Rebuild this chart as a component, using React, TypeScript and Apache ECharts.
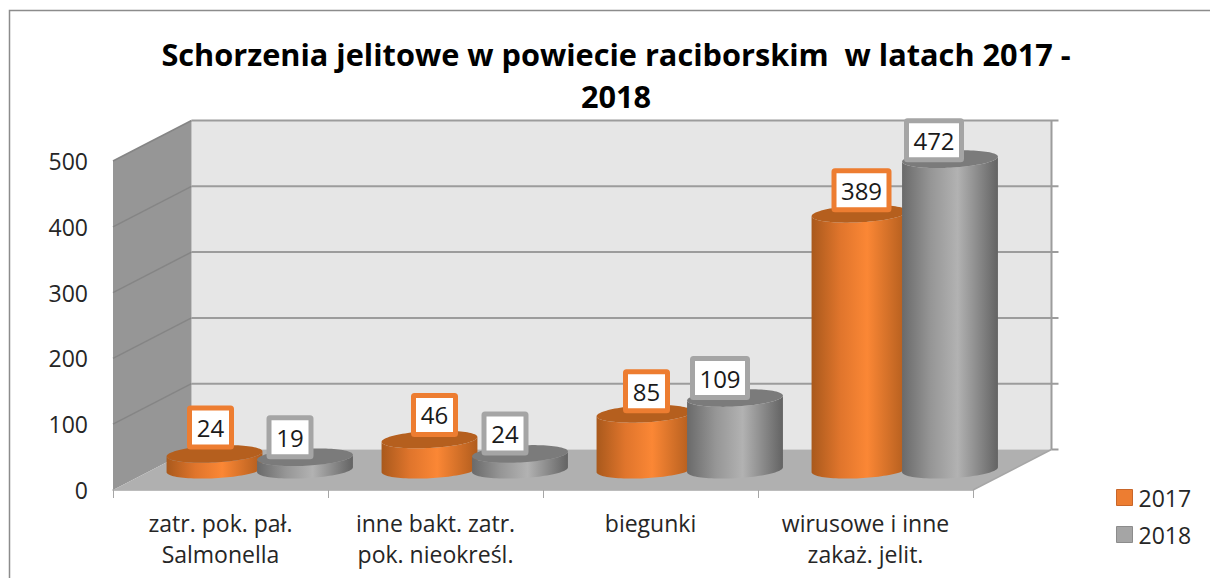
import React, { useEffect, useRef } from "react";
import * as echarts from "echarts";

const categories = [
  "zatr. pok. pał.\nSalmonella",
  "inne bakt. zatr.\npok. nieokreśl.",
  "biegunki",
  "wirusowe i inne\nzakaż. jelit.",
];
const values2017 = [24, 46, 85, 389];
const values2018 = [19, 24, 109, 472];
const yTicks = [0, 100, 200, 300, 400, 500];
const titleText = "Schorzenia jelitowe w powiecie raciborskim  w latach 2017 -\n2018";

const FONT = "'Open Sans', Lato, sans-serif";
const DEPTH_X = 78.5;
const DEPTH_Y = -40.5;
const TILT = (-3 * Math.PI) / 180;
const RX = 48;
const RY = 8.5;

type Look = {
  dx: number;
  labelDx: number[];
  labelDy: number[];
  border: string;
  top: string;
  stops: [string, string, string, string];
  legend: string;
  legendBorder: string;
};
const look2017: Look = {
  dx: -6,
  labelDx: [-4, 5, 2, 2],
  labelDy: [-26.5, -24.5, -22.5, -23.5],
  border: "#ed7d31",
  top: "#b55f1e",
  stops: ["#a9591c", "#e0752c", "#fb8735", "#b05c1d"],
  legend: "#ed7d31",
  legendBorder: "#c8662a",
};
const look2018: Look = {
  dx: 84.5,
  labelDx: [-15, -15, -15, -16],
  labelDy: [-20, -20.5, -20, -19],
  border: "#a5a5a5",
  top: "#7b7b7b",
  stops: ["#6a6a6a", "#969696", "#b2b2b2", "#636363"],
  legend: "#a5a5a5",
  legendBorder: "#8c8c8c",
};

function ellipsePoint(cx: number, cy: number, t: number) {
  const ex = RX * Math.cos(t);
  const ey = RY * Math.sin(t);
  return [
    cx + ex * Math.cos(TILT) - ey * Math.sin(TILT),
    cy + ex * Math.sin(TILT) + ey * Math.cos(TILT),
  ];
}

function cylinderItem(look: Look) {
  return (_params: any, api: any) => {
    const idx = api.value(0);
    const val = api.value(1);
    const base = api.coord([idx, 0]);
    const top = api.coord([idx, val]);
    const cx = base[0] + look.dx;
    const by = base[1] + DEPTH_Y / 2;
    const ty = top[1] + DEPTH_Y / 2;

    const body: number[][] = [];
    for (let i = 0; i <= 48; i++) body.push(ellipsePoint(cx, by, (i / 48) * Math.PI));
    for (let i = 0; i <= 48; i++) body.push(ellipsePoint(cx, ty, Math.PI - (i / 48) * Math.PI));
    const cap: number[][] = [];
    for (let i = 0; i < 96; i++) cap.push(ellipsePoint(cx, ty, (i / 96) * 2 * Math.PI));

    const text = String(val);
    const boxW = text.length > 2 ? 55 : 42;
    const boxH = 39;
    const lx = cx + look.labelDx[idx];
    const ly = ty + look.labelDy[idx];

    return {
      type: "group",
      children: [
        {
          type: "polygon",
          shape: { points: body },
          style: {
            fill: new echarts.graphic.LinearGradient(0, 0, 1, 0, [
              { offset: 0, color: look.stops[0] },
              { offset: 0.3, color: look.stops[1] },
              { offset: 0.58, color: look.stops[2] },
              { offset: 1, color: look.stops[3] },
            ]),
          },
        },
        { type: "polygon", shape: { points: cap }, style: { fill: look.top } },
        {
          type: "rect",
          shape: { x: lx - boxW / 2, y: ly - boxH / 2, width: boxW, height: boxH, r: 1 },
          style: { fill: "#ffffff", stroke: look.border, lineWidth: 5 },
        },
        {
          type: "text",
          x: lx,
          y: ly,
          style: {
            text,
            x: 0,
            y: 0,
            align: "center",
            verticalAlign: "middle",
            font: `400 24px ${FONT}`,
            fill: "#1a1a1a",
          },
        },
      ],
    };
  };
}

function wallsItem(params: any, api: any) {
  const { x, width } = params.coordSys;
  const right = x + width;
  const y0 = api.coord([0, 0])[1];
  const yMax = api.coord([0, yTicks[yTicks.length - 1]])[1];
  const children: any[] = [
    {
      type: "polygon",
      shape: {
        points: [
          [x + DEPTH_X, yMax + DEPTH_Y],
          [right + DEPTH_X, yMax + DEPTH_Y],
          [right + DEPTH_X, y0 + DEPTH_Y],
          [x + DEPTH_X, y0 + DEPTH_Y],
        ],
      },
      style: { fill: "#e6e6e6" },
    },
    {
      type: "polygon",
      shape: {
        points: [
          [x, yMax],
          [x + DEPTH_X, yMax + DEPTH_Y],
          [x + DEPTH_X, y0 + DEPTH_Y],
          [x, y0],
        ],
      },
      style: { fill: "#969696" },
    },
    {
      type: "polygon",
      shape: {
        points: [
          [x, y0],
          [x + DEPTH_X, y0 + DEPTH_Y],
          [right + DEPTH_X, y0 + DEPTH_Y],
          [right, y0],
        ],
      },
      style: { fill: "#b0b0b0" },
    },
  ];
  yTicks.forEach((t) => {
    const y = api.coord([0, t])[1];
    if (t > 0) {
      children.push({
        type: "line",
        shape: { x1: x, y1: y, x2: x + DEPTH_X, y2: y + DEPTH_Y },
        style: { stroke: "#858585", lineWidth: 1.5 },
      });
      children.push({
        type: "line",
        shape: { x1: x + DEPTH_X, y1: y + DEPTH_Y, x2: right + DEPTH_X + 7, y2: y + DEPTH_Y },
        style: { stroke: "#9c9c9c", lineWidth: 2 },
      });
    } else {
      children.push({
        type: "line",
        shape: { x1: right + DEPTH_X, y1: y + DEPTH_Y, x2: right + DEPTH_X + 7, y2: y + DEPTH_Y },
        style: { stroke: "#9c9c9c", lineWidth: 2 },
      });
      children.push({
        type: "line",
        shape: { x1: right, y1: y, x2: right + DEPTH_X, y2: y + DEPTH_Y },
        style: { stroke: "#a6a6a6", lineWidth: 1.5 },
      });
    }
  });
  children.push({
    type: "line",
    shape: { x1: right + DEPTH_X, y1: yMax + DEPTH_Y, x2: right + DEPTH_X, y2: y0 + DEPTH_Y },
    style: { stroke: "#9c9c9c", lineWidth: 2 },
  });
  return { type: "group", children };
}

export default function App() {
  const ref = useRef<HTMLDivElement>(null);
  useEffect(() => {
    document.body.style.margin = "0";
    const chart = echarts.init(ref.current!, undefined, { renderer: "svg" });
    chart.setOption({
      animation: false,
      backgroundColor: "#ffffff",
      title: {
        text: titleText,
        left: 611,
        top: 28,
        textAlign: "center",
        textStyle: {
          fontFamily: FONT,
          fontWeight: 700,
          fontSize: 30.7,
          lineHeight: 42,
          color: "#000000",
        },
      },
      legend: {
        orient: "vertical",
        left: 1116,
        top: 486,
        padding: 0,
        itemWidth: 16,
        itemHeight: 16,
        itemGap: 14,
        itemStyle: { borderWidth: 1 },
        icon: "rect",
        data: ["2017", "2018"],
        textStyle: { fontFamily: FONT, fontSize: 23, color: "#262626", padding: [0, 0, 0, 1] },
      },
      grid: { left: 113, right: 237, top: 161, bottom: 88 },
      xAxis: {
        type: "category",
        data: categories,
        axisLine: { show: true, lineStyle: { color: "#a6a6a6", width: 1.5 } },
        axisTick: { show: true, length: 8, lineStyle: { color: "#a6a6a6", width: 1 } },
        axisLabel: {
          interval: 0,
          margin: 17,
          fontFamily: FONT,
          fontSize: 23,
          lineHeight: 31,
          color: "#262626",
        },
      },
      yAxis: {
        type: "value",
        min: 0,
        max: 500,
        interval: 100,
        axisLine: { show: false },
        axisTick: { show: false },
        splitLine: { show: false },
        axisLabel: { margin: 25, fontFamily: FONT, fontSize: 23, color: "#262626" },
      },
      graphic: [
        {
          type: "polyline",
          silent: true,
          shape: { points: [[9.5, 578], [9.5, 10.5], [1210, 10.5]] },
          style: { stroke: "#8c8c8c", lineWidth: 1.5, fill: "none" },
        },
      ],
      series: [
        {
          type: "custom",
          name: "walls",
          silent: true,
          z: 1,
          clip: false,
          renderItem: wallsItem,
          data: [[0, 0]],
          encode: { x: 0, y: 1 },
        },
        {
          type: "custom",
          name: "2017",
          z: 2,
          clip: false,
          renderItem: cylinderItem(look2017),
          itemStyle: { color: look2017.legend, borderColor: look2017.legendBorder, borderWidth: 1 },
          data: values2017.map((v, i) => [i, v]),
          encode: { x: 0, y: 1 },
        },
        {
          type: "custom",
          name: "2018",
          z: 3,
          clip: false,
          renderItem: cylinderItem(look2018),
          itemStyle: { color: look2018.legend, borderColor: look2018.legendBorder, borderWidth: 1 },
          data: values2018.map((v, i) => [i, v]),
          encode: { x: 0, y: 1 },
        },
      ],
    });
    return () => chart.dispose();
  }, []);
  return <div ref={ref} style={{ position: "absolute", left: 0, top: 0, width: 1210, height: 578 }} />;
}
